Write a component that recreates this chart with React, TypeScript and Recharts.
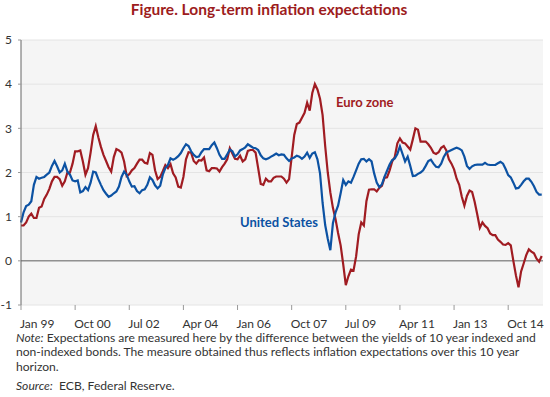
import { LineChart, Line, XAxis, YAxis, CartesianGrid, ReferenceLine } from "recharts"

// monthly, Jan 1999 onwards (index = months since Jan 99)
const us = [
  0.87, 1.1, 1.24, 1.27, 1.35, 1.72, 1.9, 1.86, 1.88, 1.9,
  1.95, 2.0, 2.15, 2.26, 2.14, 2.0, 2.05, 2.2, 2.02, 1.95,
  1.82, 1.8, 1.82, 1.55, 1.58, 1.67, 1.6, 1.77, 2.02, 2.0,
  1.85, 1.72, 1.6, 1.52, 1.45, 1.48, 1.53, 1.57, 1.68, 1.9,
  2.02, 1.95, 1.8, 1.68, 1.69, 1.58, 1.53, 1.6, 1.62, 1.72,
  1.89, 1.83, 1.71, 1.64, 1.7, 1.95, 2.1, 2.17, 2.32, 2.29,
  2.32, 2.37, 2.44, 2.55, 2.64, 2.6, 2.48, 2.4, 2.35, 2.36,
  2.46, 2.53, 2.53, 2.53, 2.62, 2.68, 2.55, 2.4, 2.31, 2.31,
  2.41, 2.52, 2.48, 2.36, 2.41, 2.5, 2.53, 2.57, 2.64, 2.6,
  2.56, 2.55, 2.51, 2.39, 2.32, 2.3, 2.32, 2.36, 2.39, 2.43,
  2.39, 2.41, 2.4, 2.32, 2.26, 2.32, 2.34, 2.38, 2.36, 2.31,
  2.36, 2.45, 2.33, 2.43, 2.46, 2.3, 1.98, 1.31, 0.81, 0.5,
  0.24, 0.85, 1.09, 1.25, 1.53, 1.83, 1.72, 1.8, 1.77, 1.9,
  2.05, 2.2, 2.3, 2.31, 2.25, 2.3, 2.25, 1.98, 1.77, 1.67,
  1.73, 1.9, 2.04, 2.18, 2.28, 2.32, 2.42, 2.59, 2.42, 2.25,
  2.36, 2.15, 1.92, 1.93, 1.97, 2.0, 2.05, 2.15, 2.26, 2.29,
  2.2, 2.13, 2.12, 2.2, 2.35, 2.45, 2.48, 2.51, 2.54, 2.56,
  2.54, 2.5, 2.36, 2.15, 2.08, 2.14, 2.17, 2.18, 2.18, 2.18,
  2.22, 2.18, 2.17, 2.17, 2.17, 2.21, 2.24, 2.2, 2.08, 1.94,
  1.89, 1.77, 1.64, 1.65, 1.72, 1.8, 1.86, 1.86, 1.79, 1.69,
  1.56, 1.5, 1.5,
]

const euro = [
  0.8, 0.8, 0.87, 1.0, 1.07, 0.97, 0.97, 1.2, 1.23, 1.4,
  1.5, 1.63, 1.8, 1.9, 1.9, 1.85, 1.7, 1.8, 2.0, 2.0,
  2.2, 2.48, 2.48, 2.5, 2.25, 1.95, 2.1, 2.45, 2.85, 3.05,
  2.8, 2.58, 2.4, 2.26, 2.12, 2.02, 2.35, 2.53, 2.5, 2.45,
  2.25, 1.92, 1.96, 2.05, 2.1, 2.2, 2.29, 2.29, 2.22, 2.2,
  2.44, 2.4, 2.05, 1.85, 1.9, 2.03, 2.17, 2.1, 2.19, 1.98,
  1.89, 1.68, 1.66, 1.9, 2.3, 2.46, 2.45, 2.26, 2.2, 2.28,
  2.27, 2.34, 2.05, 2.03, 2.1, 2.1, 2.09, 2.02, 2.12, 2.2,
  2.3, 2.55, 2.43, 2.31, 2.3, 2.38, 2.25, 2.3, 2.49, 2.51,
  2.51, 2.45, 2.1, 1.74, 1.72, 1.86, 1.8, 1.8, 1.88, 1.91,
  1.91, 1.91, 1.86, 1.77, 1.85, 2.35, 2.85, 3.1, 3.13, 3.24,
  3.35, 3.58, 3.4, 3.8, 4.0, 3.88, 3.67, 3.3, 2.6, 2.0,
  1.55, 1.2, 0.95, 0.63, 0.35, -0.08, -0.55, -0.35, -0.2, -0.22,
  0.1, 0.6, 0.87, 0.8, 1.35, 1.61, 1.62, 1.62, 1.57, 1.65,
  1.7, 1.88, 1.89, 2.05, 2.25, 2.35, 2.66, 2.77, 2.68, 2.66,
  2.59, 2.52, 2.75, 3.0, 2.97, 2.7, 2.7, 2.7, 2.64, 2.56,
  2.45, 2.42, 2.46, 2.56, 2.6, 2.5, 2.3, 2.2, 2.07, 1.86,
  1.72, 1.45, 1.25, 1.47, 1.59, 1.56, 1.33, 1.05, 0.75, 0.87,
  0.79, 0.74, 0.62, 0.58, 0.58, 0.48, 0.43, 0.37, 0.36, 0.4,
  0.35, 0.0, -0.33, -0.6, -0.24, -0.06, 0.13, 0.26, 0.21, 0.17,
  0.05, -0.02, 0.11,
]

const tickMonths = [0, 21, 42, 63, 84, 105, 126, 147, 168, 189]
const tickLabels = ["Jan 99", "Oct 00", "Jul 02", "Apr 04", "Jan 06", "Oct 07", "Jul 09", "Apr 11", "Jan 13", "Oct 14"]
const yTicks = [-1, 0, 1, 2, 3, 4, 5]

const data = us.map((v, i) => ({ m: i, us: v, euro: euro[i] }))

const RED = "#a01c22"
const BLUE = "#0c52a3"
const FONT = "Lato, 'Open Sans', sans-serif"

function XTick(props: any) {
  const { x, y, payload } = props
  const label = tickLabels[tickMonths.indexOf(payload.value)]
  return (
    <text x={x - 1} y={y + 16} textAnchor="start" fontSize={12} fill="#333" fontFamily={FONT}>
      {label}
    </text>
  )
}

export default function App() {
  return (
    <div style={{ position: "absolute", left: 0, top: 0, width: 550, height: 397, background: "#fff", fontFamily: FONT }}>
      <div style={{ position: "absolute", left: 0, width: 538, top: 0, textAlign: "center", color: "#9d1c20", fontWeight: 700, fontSize: 15.5 }}>
        Figure. Long-term inflation expectations
      </div>

      <div style={{ position: "absolute", left: 0, top: 0 }}>
        <LineChart width={550} height={340} data={data} margin={{ top: 40, right: 7, bottom: 5, left: 0 }}>
          <CartesianGrid vertical={false} stroke="#e4e4e4" fill="#f5f5f5" />
          <XAxis
            dataKey="m"
            type="number"
            domain={[0, 202.5]}
            ticks={tickMonths}
            tick={<XTick />}
            tickSize={5}
            axisLine={false}
            tickLine={{ stroke: "#999" }}
            height={30}
          />
          <YAxis
            type="number"
            domain={[-1, 5]}
            ticks={yTicks}
            width={21}
            tickSize={3}
            tickMargin={6}
            axisLine={{ stroke: "#666" }}
            tickLine={{ stroke: "#999" }}
            tick={{ fontSize: 12, fill: "#333", fontFamily: FONT }}
          />
          <ReferenceLine y={0} stroke="#666" strokeWidth={1} />
          <Line dataKey="euro" stroke={RED} strokeWidth={2.2} dot={false} isAnimationActive={false} />
          <Line dataKey="us" stroke={BLUE} strokeWidth={2.2} dot={false} isAnimationActive={false} />
        </LineChart>
      </div>

      <div style={{ position: "absolute", left: 336, top: 94, color: RED, fontWeight: 700, fontSize: 13 }}>Euro zone</div>
      <div style={{ position: "absolute", left: 240, top: 214, color: BLUE, fontWeight: 700, fontSize: 13 }}>United States</div>

      <div style={{ position: "absolute", left: 16, top: 331, width: 534, fontSize: 12.1, lineHeight: "14.3px", color: "#333" }}>
        <div><i>Note:</i> Expectations are measured here by the difference between the yields of 10 year indexed and</div>
        <div>non-indexed bonds. The measure obtained thus reflects inflation expectations over this 10 year</div>
        <div>horizon.</div>
        <div style={{ marginTop: 5 }}><i>Source:</i>&nbsp; ECB, Federal Reserve.</div>
      </div>
    </div>
  )
}
